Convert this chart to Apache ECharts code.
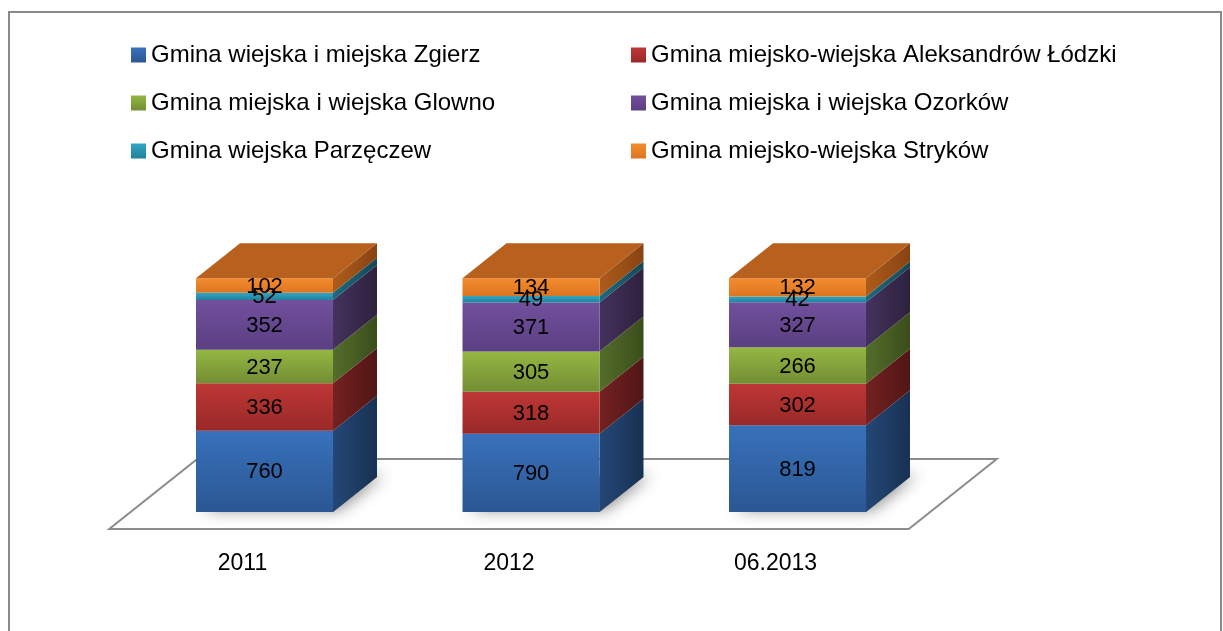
<!DOCTYPE html>
<html>
<head>
<meta charset="utf-8">
<script src="https://cdn.jsdelivr.net/npm/echarts@6/dist/echarts.min.js"></script>
<style>html,body{margin:0;padding:0;background:#fff}#c{width:1223px;height:631px}</style>
</head>
<body>
<div id="c"></div>
<script>
// ---- data ----
const categories = ['2011', '2012', '06.2013'];
const seriesNames = [
  'Gmina wiejska i miejska Zgierz',
  'Gmina miejsko-wiejska Aleksandrów Łódzki',
  'Gmina miejska i wiejska Glowno',
  'Gmina miejska i wiejska Ozorków',
  'Gmina wiejska Parzęczew',
  'Gmina miejsko-wiejska Stryków'
];
const zgierz      = [760, 790, 819];
const aleksandrow = [336, 318, 302];
const glowno      = [237, 305, 266];
const ozorkow     = [352, 371, 327];
const parzeczew   = [52, 49, 42];
const strykow     = [102, 134, 132];
const valueAxisMin = 10;   // percent
const valueAxisMax = 100;  // percent

// ---- style ----
const FONT = '"Liberation Sans", Arial, sans-serif';
const BAR_RATIO = 0.514;
const DX = 44, DY = -35;           // bar depth
const FLOOR_SHIFT_X = -22, FLOOR_SHIFT_Y = 17, FLOOR_DX = 88, FLOOR_DY = -70;
const palette = [
  {top:'#3871bb', bot:'#2b5793', s1:'#244777', s2:'#183152'},
  {top:'#be3735', bot:'#982928', s1:'#742121', s2:'#511515'},
  {top:'#94b742', bot:'#738d34', s1:'#546d2a', s2:'#3a4d1c'},
  {top:'#71509d', bot:'#5a3f81', s1:'#44325d', s2:'#2e213d'},
  {top:'#30a6c6', bot:'#22819b', s1:'#1d697e', s2:'#144958'},
  {top:'#f38c2e', bot:'#dc7520', s1:'#ad5c1b', s2:'#884312', cap:'#b8611e'}
];
const valuesBySeries = [zgierz, aleksandrow, glowno, ozorkow, parzeczew, strykow];

const totals = categories.map((c, i) => valuesBySeries.reduce((a, arr) => a + arr[i], 0));

function vgrad(a, b) {
  return new echarts.graphic.LinearGradient(0, 0, 0, 1, [{offset:0, color:a}, {offset:1, color:b}]);
}
function hgrad(a, b) {
  return new echarts.graphic.LinearGradient(0, 0, 1, 0, [{offset:0, color:a}, {offset:1, color:b}]);
}

function segData(si) {
  return categories.map((c, ci) => {
    let start = 0;
    for (let k = 0; k < si; k++) start += valuesBySeries[k][ci];
    const end = start + valuesBySeries[si][ci];
    return [ci, start / totals[ci] * 100, end / totals[ci] * 100, valuesBySeries[si][ci]];
  });
}

function geom(params, api) {
  const ci = api.value(0);
  const pTop = api.coord([ci, api.value(2)]);
  const pBot = api.coord([ci, api.value(1)]);
  const cs = params.coordSys;
  const w = api.size([1, 0])[0] * BAR_RATIO;
  const yb = Math.min(pBot[1], cs.y + cs.height);
  return {xl: pTop[0] - w / 2, xr: pTop[0] + w / 2, yt: pTop[1], yb: yb, cx: pTop[0]};
}

function barRender(si) {
  const col = palette[si];
  return function (params, api) {
    const g = geom(params, api);
    const children = [
      {type:'polygon', shape:{points:[[g.xr, g.yt], [g.xr + DX, g.yt + DY], [g.xr + DX, g.yb + DY], [g.xr, g.yb]]},
       style:{fill:hgrad(col.s1, col.s2)}},
      {type:'rect', shape:{x:g.xl, y:g.yt, width:g.xr - g.xl, height:g.yb - g.yt},
       style:{fill:vgrad(col.top, col.bot)}}
    ];
    if (col.cap) {
      children.push({type:'polygon', shape:{points:[[g.xl, g.yt], [g.xr, g.yt], [g.xr + DX, g.yt + DY], [g.xl + DX, g.yt + DY]]},
        style:{fill:col.cap}});
    }
    return {type:'group', children};
  };
}

const series = [];
// floor + shadows
series.push({
  type:'custom', name:'floor', z:1, silent:true,
  data:[[0]],
  renderItem: function (params, api) {
    const cs = params.coordSys;
    const fy = cs.y + cs.height + FLOOR_SHIFT_Y;
    const fl = cs.x + FLOOR_SHIFT_X, fr = cs.x + cs.width + FLOOR_SHIFT_X;
    const children = [{
      type:'polygon',
      shape:{points:[[fl, fy], [fr, fy], [fr + FLOOR_DX, fy + FLOOR_DY], [fl + FLOOR_DX, fy + FLOOR_DY]]},
      style:{fill:'#ffffff', stroke:'#8c8c8c', lineWidth:2}
    }];
    const w = api.size([1, 0])[0] * BAR_RATIO;
    categories.forEach((c, ci) => {
      const p = api.coord([ci, valueAxisMin]);
      const xl = p[0] - w / 2, xr = p[0] + w / 2, yb = p[1];
      children.push({
        type:'polygon',
        shape:{points:[[xl, yb], [xr, yb], [xr + DX, yb + DY], [xl + DX, yb + DY]]},
        style:{fill:'rgba(90,90,90,0.7)', shadowBlur:16, shadowColor:'rgba(0,0,0,0.65)', shadowOffsetX:6, shadowOffsetY:-2}
      });
    });
    return {type:'group', children};
  }
});
seriesNames.forEach((name, si) => {
  series.push({
    type:'custom', name:name, z:2, silent:true,
    itemStyle:{color:vgrad(palette[si].top, palette[si].bot)},
    data:segData(si),
    renderItem:barRender(si)
  });
});
// labels on top
const labelData = [];
seriesNames.forEach((n, si) => segData(si).forEach(d => labelData.push(d)));
series.push({
  type:'custom', name:'labels', z:5, silent:true,
  data:labelData,
  renderItem: function (params, api) {
    const g = geom(params, api);
    return {type:'text', style:{text:String(api.value(3)), x:g.cx, y:(g.yt + g.yb) / 2 + 1,
      align:'center', verticalAlign:'middle', font:'22px ' + FONT, fill:'#000'}};
  }
});

const legendPos = [[131, 43], [631, 43], [131, 91], [631, 91], [131, 139], [631, 139]];
const legends = seriesNames.map((n, i) => ({
  data:[n], left:legendPos[i][0], top:legendPos[i][1], padding:0,
  icon:'rect', itemWidth:15, itemHeight:15, selectedMode:false,
  textStyle:{fontFamily:FONT, fontSize:24, color:'#000', lineHeight:24}
}));

const chart = echarts.init(document.getElementById('c'), null, {renderer:'canvas'});
chart.setOption({
  backgroundColor:'#ffffff',
  animation:false,
  graphic:[{type:'rect', z:0, shape:{x:9, y:12, width:1212, height:640},
    style:{fill:'none', stroke:'#8a8a8a', lineWidth:2}, silent:true}],
  legend:legends,
  grid:{left:131.25, right:292.25, top:278.3, bottom:119, containLabel:false},
  xAxis:{type:'category', data:categories, boundaryGap:true,
    axisLine:{show:false}, axisTick:{show:false}, splitLine:{show:false},
    axisLabel:{margin:40, color:'#000', fontFamily:FONT, fontSize:23, padding:[0, 44, 0, 0]}},
  yAxis:{type:'value', min:valueAxisMin, max:valueAxisMax, show:false, splitLine:{show:false}},
  series:series
});
</script>
</body>
</html>
